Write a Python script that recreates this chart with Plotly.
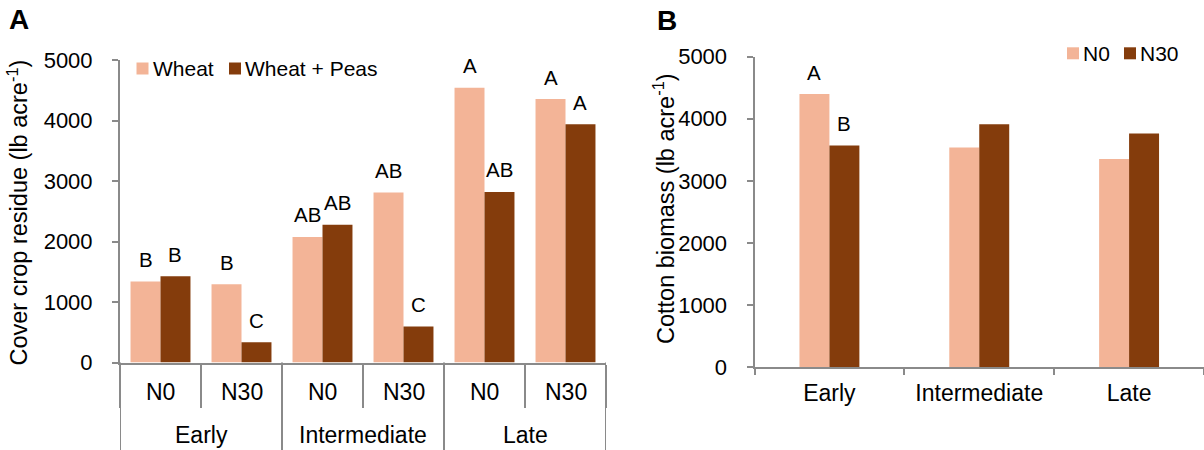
import plotly.graph_objects as go

# ---------------- data ----------------
timings = ["Early", "Intermediate", "Late"]
n_rates = ["N0", "N30"]

# Panel A: cover crop residue (lb/acre), order: Early N0, Early N30, Int N0, Int N30, Late N0, Late N30
wheat = [1340, 1295, 2075, 2810, 4540, 4355]
wheat_peas = [1425, 335, 2275, 595, 2820, 3940]
wheat_letters = ["B", "B", "AB", "AB", "A", "A"]
wheat_peas_letters = ["B", "C", "AB", "C", "AB", "A"]

# Panel B: cotton biomass (lb/acre)
cotton_n0 = [4395, 3535, 3350]
cotton_n30 = [3570, 3910, 3760]
cotton_n0_letters = ["A", "", ""]
cotton_n30_letters = ["B", "", ""]

y_ticks = [0, 1000, 2000, 3000, 4000, 5000]

# ---------------- style ----------------
W, H = 1204, 450
LIGHT = "#F3B497"
DARK = "#843C0C"
GRAY = "#8A8A8A"
FONT = "Liberation Sans, Arial, sans-serif"
TICK_FS = 23
YTICK_FS = 22
LAB_FS = 20.5
LEG_FS = 21

def px(x):
    return x / W

def py(y):
    return (H - y) / H

inner_labels = [n for _ in timings for n in n_rates]
idx = list(range(len(inner_labels)))
BW_A = 0.37
BW_B = 0.2

fig = go.Figure()

# Panel A bars
fig.add_trace(go.Bar(x=idx, y=wheat, name="Wheat", marker=dict(color=LIGHT, line=dict(width=0)),
                     width=BW_A, offset=-BW_A, xaxis="x", yaxis="y"))
fig.add_trace(go.Bar(x=idx, y=wheat_peas, name="Wheat + Peas", marker=dict(color=DARK, line=dict(width=0)),
                     width=BW_A, offset=0, xaxis="x", yaxis="y"))

# Panel B bars
fig.add_trace(go.Bar(x=timings, y=cotton_n0, name="N0", marker=dict(color=LIGHT, line=dict(width=0)),
                     width=BW_B, offset=-BW_B, xaxis="x2", yaxis="y2"))
fig.add_trace(go.Bar(x=timings, y=cotton_n30, name="N30", marker=dict(color=DARK, line=dict(width=0)),
                     width=BW_B, offset=0, xaxis="x2", yaxis="y2"))

annotations = []
shapes = []

# letters above bars - panel A
for i, (v, t) in enumerate(zip(wheat, wheat_letters)):
    annotations.append(dict(x=i - BW_A / 2, y=v, xref="x", yref="y", text=t, showarrow=False,
                            yanchor="middle", yshift=22, font=dict(size=LAB_FS, color="black")))
for i, (v, t) in enumerate(zip(wheat_peas, wheat_peas_letters)):
    annotations.append(dict(x=i + BW_A / 2, y=v, xref="x", yref="y", text=t, showarrow=False,
                            yanchor="middle", yshift=22, font=dict(size=LAB_FS, color="black")))
# letters above bars - panel B
for i, (v, t) in enumerate(zip(cotton_n0, cotton_n0_letters)):
    if t:
        annotations.append(dict(x=i - BW_B / 2, y=v, xref="x2", yref="y2", text=t, showarrow=False,
                                yanchor="middle", yshift=22, font=dict(size=LAB_FS, color="black")))
for i, (v, t) in enumerate(zip(cotton_n30, cotton_n30_letters)):
    if t:
        annotations.append(dict(x=i + BW_B / 2, y=v, xref="x2", yref="y2", text=t, showarrow=False,
                                yanchor="middle", yshift=22, font=dict(size=LAB_FS, color="black")))

# Panel A two-level category labels
for i, lab in enumerate(inner_labels):
    annotations.append(dict(x=i, y=py(392), xref="x", yref="paper", text=lab, showarrow=False,
                            yanchor="middle", font=dict(size=TICK_FS, color="black")))
for g, lab in enumerate(timings):
    annotations.append(dict(x=g * 2 + 0.5, y=py(435), xref="x", yref="paper", text=lab, showarrow=False,
                            yanchor="middle", font=dict(size=TICK_FS, color="black")))
A_BOTTOM = 362.5
for g in range(len(timings) + 1):
    xv = g * 2 - 0.5
    shapes.append(dict(type="line", xref="x", yref="paper", x0=xv, x1=xv, y0=0, y1=py(A_BOTTOM),
                       line=dict(color=GRAY, width=2)))

# Axis titles
annotations.append(dict(x=px(17), y=py(212.5), xref="paper", yref="paper", textangle=-90,
                        text="Cover crop residue (lb acre<sup>-1</sup>)", showarrow=False,
                        xanchor="center", yanchor="middle", font=dict(size=23.5, color="black")))
annotations.append(dict(x=px(663.5), y=py(208.5), xref="paper", yref="paper", textangle=-90,
                        text="Cotton biomass (lb acre<sup>-1</sup>)", showarrow=False,
                        xanchor="center", yanchor="middle", font=dict(size=23.5, color="black")))

# Panel letters
annotations.append(dict(x=px(19), y=py(20), xref="paper", yref="paper", text="<b>A</b>", showarrow=False,
                        xanchor="center", yanchor="middle", font=dict(size=28, color="black")))
annotations.append(dict(x=px(666.5), y=py(21), xref="paper", yref="paper", text="<b>B</b>", showarrow=False,
                        xanchor="center", yanchor="middle", font=dict(size=28, color="black")))

# Custom legends
def legend_item(x_sq, y_c, color, label):
    shapes.append(dict(type="rect", xref="paper", yref="paper", x0=px(x_sq), x1=px(x_sq + 12),
                       y0=py(y_c + 6), y1=py(y_c - 6), fillcolor=color, line=dict(width=0)))
    annotations.append(dict(x=px(x_sq + 14), y=py(y_c), xref="paper", yref="paper", text=label,
                            showarrow=False, xanchor="left", yanchor="middle",
                            font=dict(size=LEG_FS, color="black")))

legend_item(136.5, 68.5, LIGHT, "Wheat")
legend_item(229, 68.5, DARK, "Wheat + Peas")
legend_item(1067, 53.3, LIGHT, "N0")
legend_item(1124, 53.3, DARK, "N30")

axis_common = dict(showline=True, linecolor=GRAY, linewidth=2, showgrid=False, zeroline=False,
                   ticks="outside", tickcolor=GRAY, tickwidth=2, fixedrange=True, automargin=False)

fig.update_layout(
    width=W, height=H,
    margin=dict(l=0, r=0, t=0, b=0, pad=0, autoexpand=False),
    paper_bgcolor="white", plot_bgcolor="white",
    font=dict(family=FONT, color="black"),
    showlegend=False,
    barmode="overlay",
    xaxis=dict(domain=[px(120), px(606)], range=[-0.5, 5.5], anchor="y",
               tickmode="array", tickvals=[i - 0.5 for i in range(len(inner_labels) + 1)],
               ticklen=43, showticklabels=False, **axis_common),
    yaxis=dict(domain=[py(A_BOTTOM), py(60)], range=[0, 5000], anchor="x",
               tickmode="array", tickvals=y_ticks, ticklen=6, ticklabelstandoff=15,
               tickfont=dict(size=YTICK_FS, color="black"), **axis_common),
    xaxis2=dict(domain=[px(754.5), 1.0], anchor="y2", type="category", tickson="boundaries",
                ticklen=6, ticklabelstandoff=4, tickfont=dict(size=TICK_FS, color="black"), **axis_common),
    yaxis2=dict(domain=[py(367.3), py(56.5)], range=[0, 5000], anchor="x2",
                tickmode="array", tickvals=y_ticks, ticklen=6, ticklabelstandoff=15,
                tickfont=dict(size=YTICK_FS, color="black"), **axis_common),
    annotations=annotations,
    shapes=shapes,
)

fig.write_html("out.html", config={"displayModeBar": False},
               post_script="document.body.style.margin='0';document.body.style.overflow='hidden';")
